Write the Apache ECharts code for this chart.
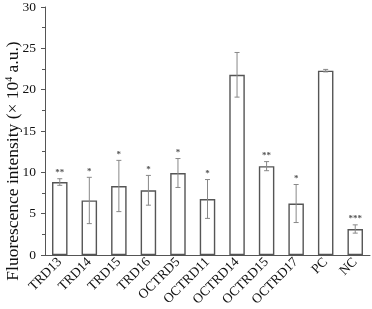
<!DOCTYPE html>
<html><head><meta charset="utf-8">
<script src="https://cdn.jsdelivr.net/npm/echarts@6/dist/echarts.min.js"></script>
<style>html,body{margin:0;padding:0;background:#fff}#c{width:372px;height:309px}</style>
</head><body><div id="c"></div>
<script>
var categories = ['TRD13','TRD14','TRD15','TRD16','OCTRD5','OCTRD11','OCTRD14','OCTRD15','OCTRD17','PC','NC'];
var values = [8.83, 6.6, 8.35, 7.83, 9.92, 6.78, 21.8, 10.75, 6.23, 22.3, 3.15];
var errors = [0.4, 2.8, 3.1, 1.8, 1.75, 2.35, 2.7, 0.55, 2.3, 0.15, 0.5];
var stars = ['**','*','*','*','*','*','','**','*','','***'];
var yTicks = [0, 5, 10, 15, 20, 25, 30];

var serif = '"Liberation Serif","Times New Roman",serif';
var chart = echarts.init(document.getElementById('c'), null, {renderer:'canvas'});
var errData = categories.map(function(c,i){return [i, values[i], errors[i], stars[i]];});
chart.setOption({
  animation:false,
  grid:{left:45, right:2, top:7, bottom:53},
  xAxis:{type:'category', data:categories,
    axisLine:{lineStyle:{color:'#555', width:1}},
    axisTick:{show:false},
    axisLabel:{rotate:45, interval:0, fontFamily:serif, fontSize:13.5, color:'#111', margin:5}},
  yAxis:{type:'value', min:yTicks[0], max:yTicks[yTicks.length-1], interval:5,
    splitLine:{show:false},
    axisLine:{show:true, lineStyle:{color:'#555'}},
    axisTick:{show:true, length:4, lineStyle:{color:'#555'}},
    minorTick:{show:true, splitNumber:2, length:3, lineStyle:{color:'#555'}},
    axisLabel:{fontFamily:serif, fontSize:13.5, color:'#111', margin:9}},
  graphic:[{type:'text', x:13, y:161, rotation:Math.PI/2,
    style:{text:'Fluorescence intensity (× 10{s|4} a.u.)', font:'17.5px '+serif, fill:'#111',
      align:'center', verticalAlign:'middle',
      rich:{s:{fontSize:10, fontFamily:serif, verticalAlign:'top', padding:[0,0,7,0], fill:'#111'}}}}],
  series:[
    {type:'bar', data:values, barWidth:15.5,
      itemStyle:{color:'#fff', borderColor:'#555', borderWidth:1.4}},
    {type:'custom', data:errData, z:5,
      renderItem:function(params, api){
        var x = api.value(0), v = api.value(1), e = api.value(2);
        var top = api.coord([x, v+e]), bot = api.coord([x, v-e]);
        var cap = 2.5;
        var st = {stroke:'#888', lineWidth:1};
        var children = [
          {type:'line', shape:{x1:top[0], y1:top[1], x2:bot[0], y2:bot[1]}, style:st},
          {type:'line', shape:{x1:top[0]-cap, y1:top[1], x2:top[0]+cap, y2:top[1]}, style:st},
          {type:'line', shape:{x1:bot[0]-cap, y1:bot[1], x2:bot[0]+cap, y2:bot[1]}, style:st}
        ];
        var s = stars[params.dataIndex];
        if (s) children.push({type:'text', x:top[0], y:top[1]-6,
          style:{text:s, font:'bold 9px '+serif, fill:'#555', align:'center', verticalAlign:'middle'}});
        return {type:'group', children:children};
      }}
  ]
});
</script></body></html>
